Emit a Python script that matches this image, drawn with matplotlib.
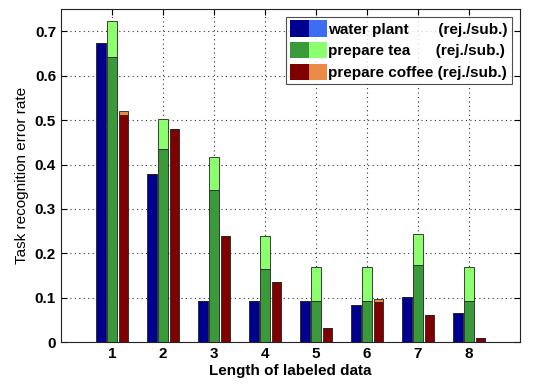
import matplotlib
matplotlib.use("Agg")
import matplotlib.pyplot as plt
import numpy as np
from matplotlib.patches import Patch
from matplotlib.legend_handler import HandlerTuple

plt.rcParams['font.family'] = ['Liberation Sans', 'DejaVu Sans']
plt.rcParams['font.weight'] = 'bold'

lengths = [1, 2, 3, 4, 5, 6, 7, 8]
water_rej = [0.674, 0.378, 0.094, 0.094, 0.094, 0.084, 0.103, 0.066]
water_sub = [0.0, 0.0, 0.0, 0.0, 0.0, 0.0, 0.0, 0.0]
tea_rej = [0.643, 0.434, 0.342, 0.165, 0.092, 0.092, 0.175, 0.092]
tea_sub = [0.079, 0.069, 0.076, 0.075, 0.077, 0.077, 0.068, 0.077]
coffee_rej = [0.511, 0.479, 0.239, 0.136, 0.033, 0.090, 0.061, 0.009]
coffee_sub = [0.010, 0.0, 0.0, 0.0, 0.0, 0.008, 0.0, 0.0]
labels = ['water plant       (rej./sub.)',
          'prepare tea      (rej./sub.)',
          'prepare coffee (rej./sub.)']

colors_dark = ['#00008f', '#3a9a3a', '#800000']
colors_light = ['#3d6cf5', '#8cff6e', '#ea8a45']

fig = plt.figure(figsize=(5.43, 3.85), dpi=100)
ax = fig.add_axes([0.1123, 0.1109, 0.8453, 0.8657])

x = np.array(lengths, dtype=float)
w = 0.18
offs = [-0.215, 0.0, 0.225]
series = [(water_rej, water_sub), (tea_rej, tea_sub), (coffee_rej, coffee_sub)]
handles = []
for i, (rej, sub) in enumerate(series):
    ax.bar(x + offs[i], rej, width=w, color=colors_dark[i], edgecolor='#222222', linewidth=0.6, zorder=3)
    ax.bar(x + offs[i], sub, bottom=rej, width=w, color=colors_light[i], edgecolor='#222222', linewidth=0.6, zorder=3)
    h = (Patch(facecolor=colors_dark[i], edgecolor='none'), Patch(facecolor=colors_light[i], edgecolor='none'))
    handles.append(h)

ax.set_xlim(0, 9)
ax.set_ylim(0, 0.75)
ax.set_xticks(lengths)
ax.set_yticks([0, 0.1, 0.2, 0.3, 0.4, 0.5, 0.6, 0.7])
ax.set_yticklabels(['0', '0.1', '0.2', '0.3', '0.4', '0.5', '0.6', '0.7'])
ax.tick_params(direction='in', top=True, right=True, labelsize=11, length=4, width=0.8)
for lab in ax.get_xticklabels() + ax.get_yticklabels():
    lab.set_fontweight('bold')
ax.grid(True, linestyle=(0, (1, 3)), color='#333333', linewidth=0.8, zorder=0)
for s in ax.spines.values():
    s.set_linewidth(0.8)
    s.set_color('#222222')

ax.set_xlabel('Length of labeled data', fontsize=11, fontweight='bold', labelpad=2)
ax.set_ylabel('Task recognition error rate', fontsize=11, fontweight='normal', labelpad=4)

leg = ax.legend(handles, labels, handler_map={tuple: HandlerTuple(ndivide=None, pad=0)},
                loc='upper right', bbox_to_anchor=(0.982, 0.977),
                prop={'weight': 'bold', 'size': 11}, frameon=True, fancybox=False,
                edgecolor='#222222', handlelength=2.4, handleheight=1.25,
                handletextpad=0.1, borderpad=0.25, labelspacing=0.35, borderaxespad=0)
leg.get_frame().set_linewidth(0.8)

fig.savefig('out.png', dpi=100)
